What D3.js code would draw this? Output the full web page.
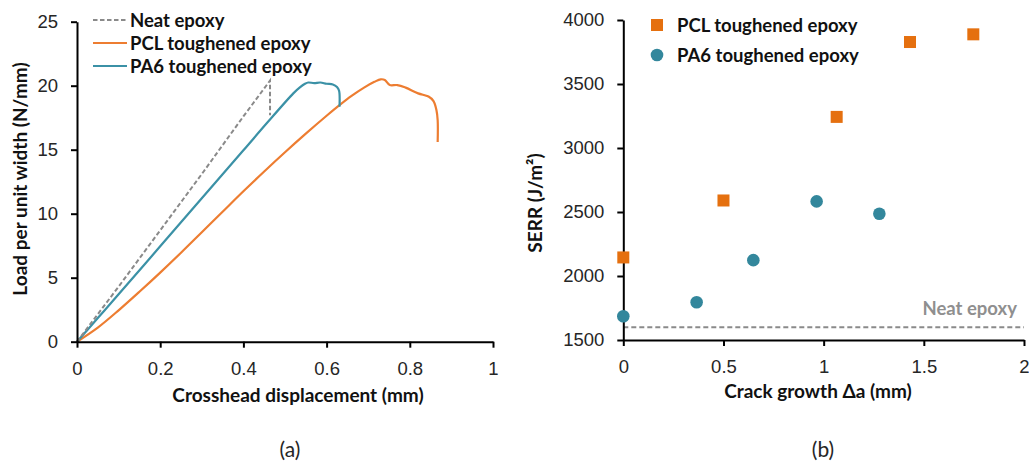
<!DOCTYPE html>
<html>
<head>
<meta charset="utf-8">
<script src="https://cdn.jsdelivr.net/npm/d3@7"></script>
<style>
body { margin: 0; background: #fff; }
svg { display: block; font-family: Lato, "Open Sans", sans-serif; }
.axis path, .axis line { stroke: #000; stroke-width: 2; }
.axis text { font-size: 18.5px; fill: #262626; }
.title { font-size: 19px; font-weight: bold; fill: #111; }
.leg { font-size: 18.5px; font-weight: bold; fill: #111; }
</style>
</head>
<body>
<svg id="fig" width="1029" height="462"></svg>
<script>
var svg = d3.select("#fig");

// (a) load vs crosshead displacement
var neatDisp = [0, 0.1, 0.2, 0.3, 0.4, 0.464, 0.464];
var neatLoad = [0, 4.3, 8.7, 13.1, 17.6, 20.4, 17.7];

var pa6Disp = [0, 0.05, 0.1, 0.2, 0.3, 0.4, 0.456, 0.52, 0.535, 0.548, 0.556, 0.57, 0.585, 0.6, 0.615, 0.625, 0.63, 0.631];
var pa6Load = [0, 1.85, 3.7, 7.45, 11.2, 14.95, 17.06, 19.4, 19.85, 20.15, 20.25, 20.2, 20.25, 20.15, 20.1, 19.9, 19.6, 18.35];

var pclDisp = [0, 0.05, 0.1, 0.15, 0.2, 0.25, 0.3, 0.35, 0.4, 0.45, 0.5, 0.55, 0.6, 0.628, 0.66, 0.69, 0.715, 0.73, 0.74, 0.752, 0.77, 0.79, 0.82, 0.845, 0.857, 0.864, 0.867, 0.867];
var pclLoad = [0, 1.1, 2.45, 3.9, 5.4, 6.95, 8.55, 10.15, 11.75, 13.3, 14.8, 16.25, 17.65, 18.4, 19.2, 19.85, 20.3, 20.5, 20.45, 20.05, 20.05, 19.85, 19.4, 19.15, 18.8, 18.1, 17.3, 15.6];

var xTicksA = [0, 0.2, 0.4, 0.6, 0.8, 1];
var yTicksA = [0, 5, 10, 15, 20, 25];

// (b) SERR vs crack growth
var pclGrowth = [0, 0.5, 1.065, 1.431, 1.747];
var pclSerr = [2145, 2590, 3243, 3828, 3888];
var pa6Growth = [0, 0.366, 0.649, 0.965, 1.278];
var pa6Serr = [1685, 1795, 2124, 2583, 2486];
var neatSerr = 1600;

var xTicksB = [0, 0.5, 1, 1.5, 2];
var yTicksB = [1500, 2000, 2500, 3000, 3500, 4000];

var orange = "#ED7D31", teal = "#3B91A6", grey = "#8A8A8A";
var sqOrange = "#E5700F", dotTeal = "#33879C";

// ---------- panel (a) ----------
var xA = d3.scaleLinear().domain([0, 1]).range([77, 493]);
var yA = d3.scaleLinear().domain([0, 25]).range([341.7, 21.7]);

var line = d3.line().x(function(d){ return xA(d[0]); }).y(function(d){ return yA(d[1]); });
var smooth = d3.line().curve(d3.curveCatmullRom.alpha(0.5))
	.x(function(d){ return xA(d[0]); }).y(function(d){ return yA(d[1]); });

function pairs(a, b){ return a.map(function(v, i){ return [v, b[i]]; }); }

svg.append("path").datum(pairs(pclDisp, pclLoad)).attr("d", smooth)
	.attr("fill", "none").attr("stroke", orange).attr("stroke-width", 2.2).attr("stroke-linejoin", "round");
svg.append("path").datum(pairs(pa6Disp, pa6Load)).attr("d", smooth)
	.attr("fill", "none").attr("stroke", teal).attr("stroke-width", 2.2).attr("stroke-linejoin", "round");
svg.append("path").datum(pairs(neatDisp, neatLoad)).attr("d", line)
	.attr("fill", "none").attr("stroke", grey).attr("stroke-width", 2).attr("stroke-dasharray", "4.5,2.5");

svg.append("g").attr("class", "axis").attr("transform", "translate(0," + yA(0) + ")")
	.call(d3.axisBottom(xA).tickValues(xTicksA).tickSize(6).tickSizeOuter(0).tickPadding(14).tickFormat(d3.format("")));
svg.append("g").attr("class", "axis").attr("transform", "translate(" + xA(0) + ",0)")
	.call(d3.axisLeft(yA).tickValues(yTicksA).tickSize(6).tickSizeOuter(0).tickPadding(13).tickFormat(d3.format("d")));

svg.append("text").attr("class", "title").attr("x", 298).attr("y", 402)
	.attr("text-anchor", "middle").text("Crosshead displacement (mm)");
svg.append("text").attr("class", "title").attr("transform", "translate(27,179) rotate(-90)")
	.attr("text-anchor", "middle").text("Load per unit width (N/mm)");
svg.append("text").attr("x", 290).attr("y", 457).attr("text-anchor", "middle")
	.attr("font-size", 21).attr("fill", "#262626").text("(a)");

var legA = [
	{name: "Neat epoxy", color: grey, dash: "4.5,2.5"},
	{name: "PCL toughened epoxy", color: orange, dash: null},
	{name: "PA6 toughened epoxy", color: teal, dash: null}
];
legA.forEach(function(d, i){
	var y = 20 + i * 23;
	svg.append("line").attr("x1", 93).attr("x2", 127).attr("y1", y).attr("y2", y)
		.attr("stroke", d.color).attr("stroke-width", 2.2).attr("stroke-dasharray", d.dash);
	svg.append("text").attr("class", "leg").attr("x", 130).attr("y", y + 6.5).text(d.name);
});

// ---------- panel (b) ----------
var xB = d3.scaleLinear().domain([0, 2]).range([623.3, 1024]);
var yB = d3.scaleLinear().domain([1500, 4000]).range([340, 20]);

svg.append("line").attr("x1", xB(0)).attr("x2", xB(2)).attr("y1", yB(neatSerr)).attr("y2", yB(neatSerr))
	.attr("stroke", grey).attr("stroke-width", 2).attr("stroke-dasharray", "5,3");
svg.append("text").attr("x", 1017).attr("y", yB(neatSerr) - 12).attr("text-anchor", "end")
	.attr("font-size", 18.5).attr("font-weight", "bold").attr("fill", "#8f8f8f").text("Neat epoxy");

svg.append("g").attr("class", "axis").attr("transform", "translate(0," + yB(1500) + ")")
	.call(d3.axisBottom(xB).tickValues(xTicksB).tickSize(6).tickSizeOuter(0).tickPadding(14).tickFormat(d3.format("")));
svg.append("g").attr("class", "axis").attr("transform", "translate(" + xB(0) + ",0)")
	.call(d3.axisLeft(yB).tickValues(yTicksB).tickSize(6).tickSizeOuter(0).tickPadding(13).tickFormat(d3.format("d")));

svg.selectAll(".sq").data(pairs(pclGrowth, pclSerr)).enter().append("rect")
	.attr("x", function(d){ return xB(d[0]) - 6; })
	.attr("y", function(d){ return yB(d[1]) - 6; })
	.attr("width", 12).attr("height", 12).attr("fill", sqOrange);
svg.selectAll(".dot").data(pairs(pa6Growth, pa6Serr)).enter().append("circle")
	.attr("cx", function(d){ return xB(d[0]); })
	.attr("cy", function(d){ return yB(d[1]); })
	.attr("r", 6.3).attr("fill", dotTeal);

svg.append("text").attr("class", "title").attr("x", 818).attr("y", 398)
	.attr("text-anchor", "middle").text("Crack growth Δa (mm)");
svg.append("text").attr("class", "title").attr("transform", "translate(542,203) rotate(-90)")
	.attr("text-anchor", "middle").text("SERR (J/m²)");
svg.append("text").attr("x", 823).attr("y", 457).attr("text-anchor", "middle")
	.attr("font-size", 21).attr("fill", "#262626").text("(b)");

svg.append("rect").attr("x", 651).attr("y", 19).attr("width", 12).attr("height", 12).attr("fill", sqOrange);
svg.append("text").attr("class", "leg").attr("x", 677).attr("y", 31.5).text("PCL toughened epoxy");
svg.append("circle").attr("cx", 657).attr("cy", 55).attr("r", 6.3).attr("fill", dotTeal);
svg.append("text").attr("class", "leg").attr("x", 677).attr("y", 61.5).text("PA6 toughened epoxy");
</script>
</body>
</html>
